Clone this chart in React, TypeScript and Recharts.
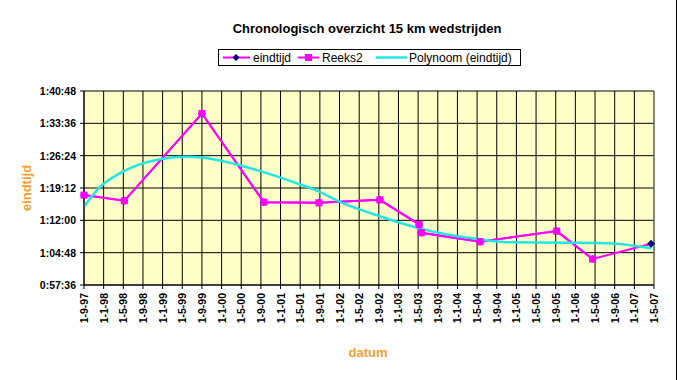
import React from "react";
import { LineChart, Line, XAxis, YAxis, CartesianGrid, ReferenceLine } from "recharts";

// x = months since 1-9-1997, y = seconds
const tickMonths = [0, 4, 8, 12, 16, 20, 24, 28, 32, 36, 40, 44, 48, 52, 56, 60, 64, 68, 72, 76, 80, 84, 88, 92, 96, 100, 104, 108, 112, 116];
const tickLabels = [
  "1-9-97", "1-1-98", "1-5-98", "1-9-98", "1-1-99", "1-5-99", "1-9-99", "1-1-00", "1-5-00", "1-9-00",
  "1-1-01", "1-5-01", "1-9-01", "1-1-02", "1-5-02", "1-9-02", "1-1-03", "1-5-03", "1-9-03", "1-1-04",
  "1-5-04", "1-9-04", "1-1-05", "1-5-05", "1-9-05", "1-1-06", "1-5-06", "1-9-06", "1-1-07", "1-5-07",
];
const yTicks = [3456, 3888, 4320, 4752, 5184, 5616, 6048];

const raceMonths = [0, 8.2, 24, 36.6, 47.8, 60.2, 68.2, 68.65, 80.6, 96.2, 103.5, 115.4];
const eindtijdSec = [4657, 4581, 5747, 4563, 4554, 4594, 4266, 4154, 4034, 4176, 3803, 4007];
const reeks2Sec = [4657, 4581, 5747, 4563, 4554, 4594, 4266, 4154, 4034, 4176, 3803];

const trendMonths = [0, 3.26, 7.33, 15.5, 20.9, 26.3, 31.7, 37.2, 42.5, 48.0, 52.1, 55.5, 60.2, 64.3, 68.4, 74.5, 80.6, 86.7, 97.5, 107.6, 115.4];
const trendSec = [4501, 4767, 4950, 5137, 5168, 5137, 5057, 4950, 4834, 4701, 4567, 4479, 4376, 4287, 4212, 4123, 4066, 4026, 4021, 4012, 3946];

const eindtijdData = raceMonths.map((m, i) => ({ m, v: eindtijdSec[i] }));
const reeks2Data = reeks2Sec.map((v, i) => ({ m: raceMonths[i], v }));
const trendData = trendMonths.map((m, i) => ({ m, v: trendSec[i] }));

const MAGENTA = "#FF00FF";
const NAVY = "#000080";
const CYAN = "#22E6E6";
const ORANGE = "#F0A030";
const FONT = "'Liberation Sans', Arial, sans-serif";

const fmtTime = (s: number) => {
  const h = Math.floor(s / 3600);
  const mm = Math.floor((s % 3600) / 60);
  const ss = Math.round(s % 60);
  return `${h}:${String(mm).padStart(2, "0")}:${String(ss).padStart(2, "0")}`;
};

const XTick = (props: any) => {
  const { x, y, payload } = props;
  const idx = tickMonths.indexOf(payload.value);
  const label = idx >= 0 ? tickLabels[idx] : "";
  return (
    <text
      x={0}
      y={0}
      transform={`translate(${x + 4},${y + 2}) rotate(-90)`}
      textAnchor="end"
      fontSize={10.5}
      fontWeight="bold"
      fontFamily={FONT}
      fill="#000"
    >
      {label}
    </text>
  );
};

const YTick = (props: any) => {
  const { x, y, payload } = props;
  return (
    <text x={x} y={y + 4} textAnchor="end" fontSize={10.5} fontWeight="bold" fontFamily={FONT} fill="#000">
      {fmtTime(payload.value)}
    </text>
  );
};

const SquareDot = (props: any) => {
  const { cx, cy, index } = props;
  if (cx == null || cy == null) return <g key={index} />;
  return <rect key={index} x={cx - 3.5} y={cy - 3.5} width={7} height={7} fill={MAGENTA} />;
};

const DiamondDot = (props: any) => {
  const { cx, cy, index } = props;
  if (cx == null || cy == null) return <g key={index} />;
  return (
    <polygon
      key={index}
      points={`${cx},${cy - 4} ${cx + 4},${cy} ${cx},${cy + 4} ${cx - 4},${cy}`}
      fill={NAVY}
    />
  );
};

export default function App() {
  return (
    <div style={{ position: "absolute", left: 0, top: 0, width: 679, height: 380, background: "#fff", fontFamily: FONT }}>
      <LineChart width={679} height={380} margin={{ top: 91, right: 25, left: 0, bottom: 0 }}>
        <CartesianGrid stroke="#000" strokeWidth={1} fill="#FFFFC8" fillOpacity={1} />
        <XAxis
          dataKey="m"
          type="number"
          domain={[0, 116]}
          ticks={tickMonths}
          interval={0}
          height={95}
          stroke="#000"
          tickSize={4}
          tick={<XTick />}
          allowDuplicatedCategory={false}
        />
        <YAxis
          type="number"
          domain={[3456, 6048]}
          ticks={yTicks}
          interval={0}
          width={84}
          stroke="#000"
          tickSize={4}
          tickMargin={4}
          tick={<YTick />}
        />
        <ReferenceLine x={116} stroke="#909090" strokeWidth={1} />
        <Line
          data={eindtijdData}
          dataKey="v"
          type="linear"
          stroke={MAGENTA}
          strokeWidth={2}
          dot={<DiamondDot />}
          isAnimationActive={false}
        />
        <Line
          data={reeks2Data}
          dataKey="v"
          type="linear"
          stroke={MAGENTA}
          strokeWidth={2}
          dot={<SquareDot />}
          isAnimationActive={false}
        />
        <Line
          data={trendData}
          dataKey="v"
          type="monotone"
          stroke={CYAN}
          strokeWidth={2.5}
          dot={false}
          isAnimationActive={false}
        />
      </LineChart>

      {/* Title */}
      <div
        style={{
          position: "absolute",
          left: 0,
          width: 734,
          top: 20,
          textAlign: "center",
          fontSize: 13,
          fontWeight: "bold",
          lineHeight: "18px",
          color: "#000",
        }}
      >
        Chronologisch overzicht 15 km wedstrijden
      </div>

      {/* Legend */}
      <svg style={{ position: "absolute", left: 218, top: 49 }} width={303} height={17}>
        <rect x={0.5} y={0.5} width={302} height={16} fill="#fff" stroke="#000" strokeWidth={1} />
        <line x1={5} y1={8.5} x2={32} y2={8.5} stroke={MAGENTA} strokeWidth={2} />
        <polygon points="18,5 21.5,8.5 18,12 14.5,8.5" fill={NAVY} />
        <text x={35} y={13} fontSize={12} fontFamily={FONT} fill="#000">eindtijd</text>
        <line x1={80} y1={8.5} x2={101} y2={8.5} stroke={MAGENTA} strokeWidth={2} />
        <rect x={87} y={5} width={7} height={7} fill={MAGENTA} />
        <text x={104} y={13} fontSize={12} fontFamily={FONT} fill="#000">Reeks2</text>
        <line x1={158} y1={8.5} x2={189} y2={8.5} stroke={CYAN} strokeWidth={2.5} />
        <text x={191} y={13} fontSize={12} fontFamily={FONT} fill="#000">Polynoom (eindtijd)</text>
      </svg>

      {/* Y axis title */}
      <div
        style={{
          position: "absolute",
          left: 26,
          top: 188,
          transform: "translate(-50%, -50%) rotate(-90deg)",
          fontSize: 13,
          fontWeight: "bold",
          color: ORANGE,
          whiteSpace: "nowrap",
        }}
      >
        eindtijd
      </div>

      {/* X axis title */}
      <div
        style={{
          position: "absolute",
          left: 368,
          top: 352,
          transform: "translate(-50%, -50%)",
          fontSize: 13,
          fontWeight: "bold",
          color: ORANGE,
          whiteSpace: "nowrap",
        }}
      >
        datum
      </div>

      {/* right chart border */}
      <div style={{ position: "absolute", left: 676, top: 0, width: 1, height: 380, background: "#000" }} />
    </div>
  );
}
